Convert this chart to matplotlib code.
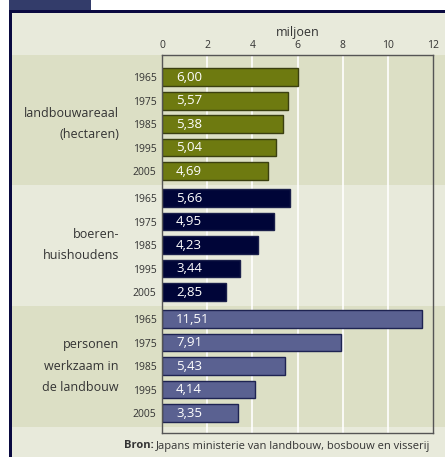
import matplotlib
matplotlib.use("Agg")
import matplotlib.pyplot as plt
from matplotlib.patches import Rectangle
from matplotlib.transforms import blended_transform_factory

years = ["1965", "1975", "1985", "1995", "2005"]
groups = ["landbouwareaal\n(hectaren)", "boeren-\nhuishoudens", "personen\nwerkzaam in\nde landbouw"]
landbouwareaal = [6.00, 5.57, 5.38, 5.04, 4.69]
huishoudens = [5.66, 4.95, 4.23, 3.44, 2.85]
personen = [11.51, 7.91, 5.43, 4.14, 3.35]
series = [landbouwareaal, huishoudens, personen]
colors = ["#6e7a10", "#000538", "#5a6191"]
edges = ["#3a3f10", "#1a1f4a", "#1e2352"]
xticks = [0, 2, 4, 6, 8, 10, 12]

light = "#e8eadb"
dark = "#dcdfc5"
txt = "#333333"
font = "Open Sans"

W, H = 445, 457
fig = plt.figure(figsize=(W / 100, H / 100), dpi=100)
fig.patch.set_facecolor("white")

def fx(px):
    return px / W

def fy(py):
    return 1 - py / H

# frame
fig.patches.append(Rectangle((fx(9), 0), 1 - fx(9), fy(10), transform=fig.transFigure,
                             facecolor="#0a0a40", edgecolor="none", zorder=-10))
fig.patches.append(Rectangle((fx(12), 0), 1 - fx(12), fy(13), transform=fig.transFigure,
                             facecolor=light, edgecolor="none", zorder=-9))
fig.patches.append(Rectangle((fx(9), fy(10)), fx(91) - fx(9), fy(0) - fy(10), transform=fig.transFigure,
                             facecolor="#333c6a", edgecolor="none", zorder=-10))

left, right, top, bottom = 162, 433, 55, 433
ax = fig.add_axes([fx(left), fy(bottom), fx(right) - fx(left), fy(top) - fy(bottom)])
ax.set_facecolor("none")

gstep = 5.15
positions = []
for g in range(3):
    positions.append([g * gstep + i for i in range(5)])

last = positions[-1][-1]
ax.set_ylim(last + 0.85, -0.94)
ax.set_xlim(0, 12)

# bands
trans = blended_transform_factory(fig.transFigure, ax.transData)
b1 = (-0.94, (positions[0][-1] + positions[1][0]) / 2)
b2 = (b1[1], (positions[1][-1] + positions[2][0]) / 2)
b3 = (b2[1], last + 0.6)
for (y0, y1), c in zip([b1, b2, b3], [dark, light, dark]):
    ax.add_patch(Rectangle((fx(12), y0), 1 - fx(12), y1 - y0, transform=trans,
                           facecolor=c, edgecolor="none", zorder=-5, clip_on=False))

# grid
for t in xticks[1:-1]:
    ax.axvline(t, color="white", lw=1.2, zorder=0)

for g in range(3):
    ax.barh(positions[g], series[g], height=0.76, color=colors[g], edgecolor=edges[g],
            linewidth=1.0, zorder=2)
    for p, v in zip(positions[g], series[g]):
        ax.text(0.62, p, f"{v:.2f}".replace(".", ","), color="white", fontsize=9.5,
                family=font, va="center", ha="left", zorder=3)
    mid = (positions[g][0] + positions[g][-1]) / 2
    ax.text(fx(119), mid, groups[g], transform=trans, ha="right", va="center",
            fontsize=9, color=txt, family=font, linespacing=1.85)

allpos = [p for grp in positions for p in grp]
ax.set_yticks(allpos)
ax.set_yticklabels(years * 3, fontsize=7.5, color=txt, family=font)
ax.tick_params(axis="y", length=0, pad=4)

ax.xaxis.tick_top()
ax.set_xticks(xticks)
ax.set_xticklabels([str(t) for t in xticks], fontsize=7.5, color=txt, family=font)
ax.tick_params(axis="x", length=0, pad=3)
ax.set_xlabel("miljoen", fontsize=9, color=txt, family=font, labelpad=3)
ax.xaxis.set_label_position("top")

for s in ax.spines.values():
    s.set_color("#555555")
    s.set_linewidth(1.0)

fig.text(fx(430), fy(446), "Japans ministerie van landbouw, bosbouw en visserij",
         ha="right", va="center", fontsize=8, color=txt, family=font)
fig.canvas.draw()
r = fig.canvas.get_renderer()
t = fig.texts[-1]
bb = t.get_window_extent(renderer=r)
fig.text(bb.x0 / W - fx(2), fy(446), "Bron:", ha="right", va="center", fontsize=8,
         color=txt, family=font, fontweight="bold")

fig.savefig("out.png", dpi=100)
